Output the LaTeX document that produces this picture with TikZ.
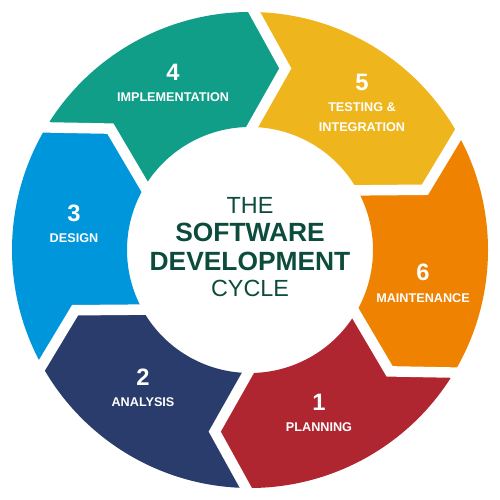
\documentclass[tikz,border=0pt]{standalone}
\usepackage{fontspec}
\setmainfont{Liberation Sans}
\usetikzlibrary{calc}

\definecolor{teal4}{HTML}{109E89}
\definecolor{yellow5}{HTML}{EEB61C}
\definecolor{orange6}{HTML}{EF8200}
\definecolor{red1}{HTML}{B02630}
\definecolor{navy2}{HTML}{2A3C6B}
\definecolor{blue3}{HTML}{0096DC}
\definecolor{titlegreen}{HTML}{0D4C3D}

\def\Ro{4.76}
\def\Ri{2.46}
\def\Rt{3.70}

\begin{document}
\begin{tikzpicture}[
        num/.style={text=white,inner sep=0pt,font=\fontsize{13.5}{14}\selectfont\bfseries},
        lab/.style={text=white,inner sep=0pt,align=center,font=\fontsize{7.2}{11.4}\selectfont\bfseries},
        gap/.style={white,line width=0.21cm,line join=miter},
        titlebold/.style={text=titlegreen,inner sep=0pt,font=\fontsize{15}{16}\selectfont\bfseries},
        titlethin/.style={text=titlegreen,inner sep=0pt,font=\fontsize{13.3}{14}\selectfont}
    ]
    \useasboundingbox (0,0) rectangle (10,10);
    \begin{scope}[shift={(5,5)}]
        % segments, clockwise from the top
        \fill[yellow5] (89:\Ro) arc[start angle=89,end angle=29,radius=\Ro] -- (19:\Rt) -- (29:\Ri)
            arc[start angle=29,end angle=89,radius=\Ri] -- (79:\Rt) -- cycle;
        \fill[orange6] (29:\Ro) arc[start angle=29,end angle=-31,radius=\Ro] -- (-41:\Rt) -- (-31:\Ri)
            arc[start angle=-31,end angle=29,radius=\Ri] -- (19:\Rt) -- cycle;
        \fill[red1] (-31:\Ro) arc[start angle=-31,end angle=-91,radius=\Ro] -- (-101:\Rt) -- (-91:\Ri)
            arc[start angle=-91,end angle=-31,radius=\Ri] -- (-41:\Rt) -- cycle;
        \fill[navy2] (-91:\Ro) arc[start angle=-91,end angle=-151,radius=\Ro] -- (-161:\Rt) -- (-151:\Ri)
            arc[start angle=-151,end angle=-91,radius=\Ri] -- (-101:\Rt) -- cycle;
        \fill[blue3] (-151:\Ro) arc[start angle=-151,end angle=-211,radius=\Ro] -- (-221:\Rt) -- (-211:\Ri)
            arc[start angle=-211,end angle=-151,radius=\Ri] -- (-161:\Rt) -- cycle;
        \fill[teal4] (149:\Ro) arc[start angle=149,end angle=89,radius=\Ro] -- (79:\Rt) -- (89:\Ri)
            arc[start angle=89,end angle=149,radius=\Ri] -- (139:\Rt) -- cycle;

        % white chevron gaps
        \draw[gap] ($(79:\Rt)!1.15!(89:\Ro)$) -- (79:\Rt) -- ($(79:\Rt)!1.15!(89:\Ri)$);
        \draw[gap] ($(19:\Rt)!1.15!(29:\Ro)$) -- (19:\Rt) -- ($(19:\Rt)!1.15!(29:\Ri)$);
        \draw[gap] ($(-41:\Rt)!1.15!(-31:\Ro)$) -- (-41:\Rt) -- ($(-41:\Rt)!1.15!(-31:\Ri)$);
        \draw[gap] ($(-101:\Rt)!1.15!(-91:\Ro)$) -- (-101:\Rt) -- ($(-101:\Rt)!1.15!(-91:\Ri)$);
        \draw[gap] ($(-161:\Rt)!1.15!(-151:\Ro)$) -- (-161:\Rt) -- ($(-161:\Rt)!1.15!(-151:\Ri)$);
        \draw[gap] ($(139:\Rt)!1.15!(149:\Ro)$) -- (139:\Rt) -- ($(139:\Rt)!1.15!(149:\Ri)$);
    \end{scope}

    % step labels
    \node[num](n4)at(3.46,8.56) {4};
    \node[lab](l4)at(3.46,8.06) {IMPLEMENTATION};
    \node[num](n5)at(7.24,8.36) {5};
    \node[lab](l5)at(7.24,7.66) {TESTING \&\\INTEGRATION};
    \node[num](n6)at(8.46,4.56) {6};
    \node[lab](l6)at(8.46,4.04) {MAINTENANCE};
    \node[num](n1)at(6.38,1.96) {1};
    \node[lab](l1)at(6.38,1.46) {PLANNING};
    \node[num](n2)at(2.86,2.46) {2};
    \node[lab](l2)at(2.86,1.96) {ANALYSIS};
    \node[num](n3)at(1.48,5.74) {3};
    \node[lab](l3)at(1.48,5.24) {DESIGN};

    % title in the middle
    \node[titlethin](the)at(5,5.90) {THE};
    \node[titlebold](software)at(5,5.36) {SOFTWARE};
    \node[titlebold](development)at(5,4.78) {DEVELOPMENT};
    \node[titlethin](cycle)at(5,4.24) {CYCLE};
\end{tikzpicture}
\end{document}
